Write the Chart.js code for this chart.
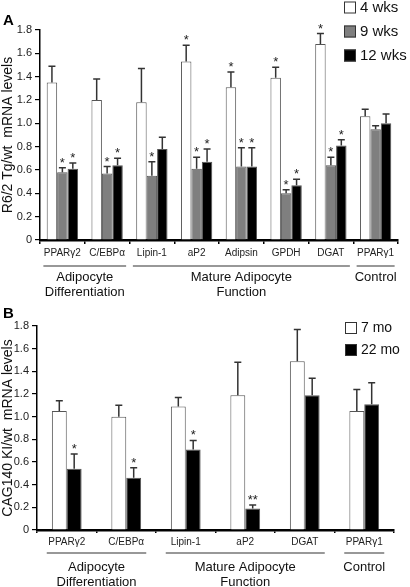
<!DOCTYPE html>
<html>
<head>
<meta charset="utf-8">
<script src="https://cdn.jsdelivr.net/npm/chart.js@4.4.0/dist/chart.umd.min.js"></script>
<style>
    html, body { margin: 0; padding: 0; background: #fff; }
    #wrap { position: relative; width: 410px; height: 587px; }
    canvas { position: absolute; left: 0; }
    #chartA { top: 0; }
    #chartB { top: 300px; }
</style>
</head>
<body>
<div id="wrap">
    <canvas id="chartA" width="410" height="300"></canvas>
    <canvas id="chartB" width="410" height="287"></canvas>
</div>
<script>
// ---- Panel A data (R6/2 Tg / wt) ----
const genesA = ['PPARγ2', 'C/EBPα', 'Lipin-1', 'aP2', 'Adipsin', 'GPDH', 'DGAT', 'PPARγ1'];
const wk4 = [1.35, 1.20, 1.18, 1.53, 1.31, 1.39, 1.68, 1.06];
const wk4Err = [0.14, 0.18, 0.29, 0.14, 0.13, 0.09, 0.09, 0.06];
const wk4Stars = ['', '', '', '*', '*', '*', '*', ''];
const wk9 = [0.58, 0.57, 0.55, 0.61, 0.63, 0.40, 0.64, 0.95];
const wk9Err = [0.04, 0.06, 0.12, 0.10, 0.16, 0.03, 0.07, 0.03];
const wk9Stars = ['*', '*', '*', '*', '*', '*', '*', ''];
const wk12 = [0.61, 0.64, 0.78, 0.67, 0.63, 0.47, 0.81, 1.00];
const wk12Err = [0.05, 0.06, 0.10, 0.11, 0.16, 0.05, 0.05, 0.08];
const wk12Stars = ['*', '*', '', '*', '*', '*', '*', ''];
const groupNamesA = [['Adipocyte', 'Differentiation'], ['Mature Adipocyte', 'Function'], ['Control']];
const groupSpansA = [[0, 1], [2, 6], [7, 7]];

// ---- Panel B data (CAG140 KI / wt) ----
const genesB = ['PPARγ2', 'C/EBPα', 'Lipin-1', 'aP2', 'DGAT', 'PPARγ1'];
const mo7 = [1.05, 1.00, 1.09, 1.19, 1.49, 1.05];
const mo7Err = [0.09, 0.10, 0.08, 0.29, 0.28, 0.19];
const mo7Stars = ['', '', '', '', '', ''];
const mo22 = [0.54, 0.46, 0.71, 0.19, 1.19, 1.11];
const mo22Err = [0.13, 0.09, 0.08, 0.03, 0.15, 0.19];
const mo22Stars = ['*', '*', '*', '**', '', ''];
const groupNamesB = [['Adipocyte', 'Differentiation'], ['Mature Adipocyte', 'Function'], ['Control']];
const groupSpansB = [[0, 1], [2, 4], [5, 5]];

const yTicks = [0, 0.2, 0.4, 0.6, 0.8, 1.0, 1.2, 1.4, 1.6, 1.8];

const FONT = "'Liberation Sans', Arial, sans-serif";

// error bars (upper only) + significance stars
const errorStarsPlugin = {
    id: 'errorStars',
    afterDatasetsDraw(chart) {
        const ctx = chart.ctx;
        const ys = chart.scales.y;
        ctx.save();
        chart.data.datasets.forEach((ds, i) => {
            const meta = chart.getDatasetMeta(i);
            meta.data.forEach((bar, j) => {
                const top = ys.getPixelForValue(ds.data[j] + ds.errors[j]);
                ctx.strokeStyle = '#333';
                ctx.lineWidth = 1.5;
                ctx.beginPath();
                ctx.moveTo(bar.x, bar.y);
                ctx.lineTo(bar.x, top);
                ctx.moveTo(bar.x - 3.5, top);
                ctx.lineTo(bar.x + 3.5, top);
                ctx.stroke();
                if (ds.stars[j]) {
                    ctx.fillStyle = '#222';
                    ctx.font = '13px ' + FONT;
                    ctx.textAlign = 'center';
                    ctx.textBaseline = 'alphabetic';
                    ctx.fillText(ds.stars[j], bar.x, top - 1);
                }
            });
        });
        ctx.restore();
    }
};

// group brackets under the category labels, legend and panel letter
const decorPlugin = {
    id: 'decor',
    afterDraw(chart, args, opts) {
        const ctx = chart.ctx;
        const xs = chart.scales.x;
        ctx.save();
        opts.spans.forEach((span, g) => {
            const x0 = xs.getPixelForValue(span[0]) - opts.ext;
            const x1 = xs.getPixelForValue(span[1]) + opts.ext;
            ctx.strokeStyle = '#333';
            ctx.lineWidth = 1.2;
            ctx.beginPath();
            ctx.moveTo(x0, opts.lineY);
            ctx.lineTo(x1, opts.lineY);
            ctx.stroke();
            ctx.fillStyle = '#111';
            ctx.font = '13px ' + FONT;
            ctx.textAlign = 'center';
            ctx.textBaseline = 'alphabetic';
            opts.names[g].forEach((t, k) => ctx.fillText(t, (x0 + x1) / 2, opts.textY + k * 15));
        });

        // legend
        chart.data.datasets.forEach((ds, i) => {
            const y = opts.legendY + i * opts.legendGap;
            ctx.fillStyle = ds.backgroundColor;
            ctx.fillRect(opts.legendX, y, 12, 12);
            ctx.strokeStyle = '#333';
            ctx.lineWidth = 1;
            ctx.strokeRect(opts.legendX + 0.5, y + 0.5, 11, 11);
            ctx.fillStyle = '#111';
            ctx.font = opts.legendSize + 'px ' + FONT;
            ctx.textAlign = 'left';
            ctx.textBaseline = 'middle';
            ctx.fillText(ds.label, opts.legendX + 16, y + 6.5);
        });

        // panel letter
        ctx.fillStyle = '#000';
        ctx.font = 'bold 15px ' + FONT;
        ctx.textAlign = 'left';
        ctx.textBaseline = 'alphabetic';
        ctx.fillText(opts.letter, 3, opts.letterY);
        ctx.restore();
    }
};

function makeChart(id, genes, datasets, cfg) {
    return new Chart(document.getElementById(id), {
        type: 'bar',
        data: { labels: genes, datasets: datasets },
        options: {
            responsive: false,
            animation: false,
            layout: { padding: { top: cfg.top, right: cfg.right, left: 0, bottom: 0 } },
            plugins: {
                legend: { display: false },
                tooltip: { enabled: false },
                decor: cfg.decor
            },
            scales: {
                x: {
                    offset: true,
                    afterFit: s => { s.height = cfg.xHeight; },
                    border: { display: true, color: '#000', width: 2.5 },
                    grid: {
                        display: true,
                        offset: true,
                        drawOnChartArea: false,
                        drawTicks: true,
                        tickLength: cfg.xTick,
                        color: '#000',
                        lineWidth: 1.5
                    },
                    ticks: {
                        color: '#222',
                        font: { family: FONT, size: 10 },
                        padding: cfg.xPad,
                        maxRotation: 0,
                        autoSkip: false
                    }
                },
                y: {
                    min: 0,
                    max: 1.8,
                    afterFit: s => { s.width = cfg.yWidth; },
                    afterBuildTicks: s => { s.ticks = yTicks.map(v => ({ value: v })); },
                    border: { display: true, color: '#000', width: 1.5 },
                    grid: {
                        display: true,
                        drawOnChartArea: false,
                        drawTicks: true,
                        tickLength: 5,
                        color: '#000',
                        lineWidth: 1.2
                    },
                    ticks: {
                        color: '#222',
                        font: { family: FONT, size: 11 },
                        padding: 3,
                        callback: v => v === 0 ? '0' : v.toFixed(1)
                    },
                    title: {
                        display: true,
                        text: cfg.yTitle,
                        color: '#111',
                        font: { family: FONT, size: 14 },
                        padding: { top: 0, bottom: 0 }
                    }
                }
            }
        },
        plugins: [errorStarsPlugin, decorPlugin]
    });
}

function barSet(label, data, errors, stars, fill, pct) {
    return {
        label: label,
        data: data,
        errors: errors,
        stars: stars,
        backgroundColor: fill,
        borderColor: '#555',
        borderWidth: 1,
        borderSkipped: 'bottom',
        barPercentage: 1.0,
        categoryPercentage: pct
    };
}

makeChart('chartA', genesA, [
    barSet('4 wks', wk4, wk4Err, wk4Stars, '#ffffff', 0.7),
    barSet('9 wks', wk9, wk9Err, wk9Stars, '#7f7f7f', 0.7),
    barSet('12 wks', wk12, wk12Err, wk12Stars, '#000000', 0.7)
], {
    top: 30, right: 12, yWidth: 40, xHeight: 60, xTick: 4, xPad: 3,
    yTitle: 'R6/2 Tg/wt  mRNA levels',
    decor: {
        names: groupNamesA, spans: groupSpansA, ext: 19,
        lineY: 266, textY: 281,
        legendX: 344, legendY: 1.5, legendGap: 24, legendSize: 15,
        letter: 'A', letterY: 25
    }
});

makeChart('chartB', genesB, [
    barSet('7 mo', mo7, mo7Err, mo7Stars, '#ffffff', 0.5),
    barSet('22 mo', mo22, mo22Err, mo22Stars, '#000000', 0.5)
], {
    top: 26, right: 16, yWidth: 37, xHeight: 57, xTick: 3, xPad: 3,
    yTitle: 'CAG140 KI/wt  mRNA levels',
    decor: {
        names: groupNamesB, spans: groupSpansB, ext: 20,
        lineY: 253, textY: 270.5,
        legendX: 345, legendY: 22, legendGap: 22, legendSize: 14,
        letter: 'B', letterY: 18
    }
});
</script>
</body>
</html>
